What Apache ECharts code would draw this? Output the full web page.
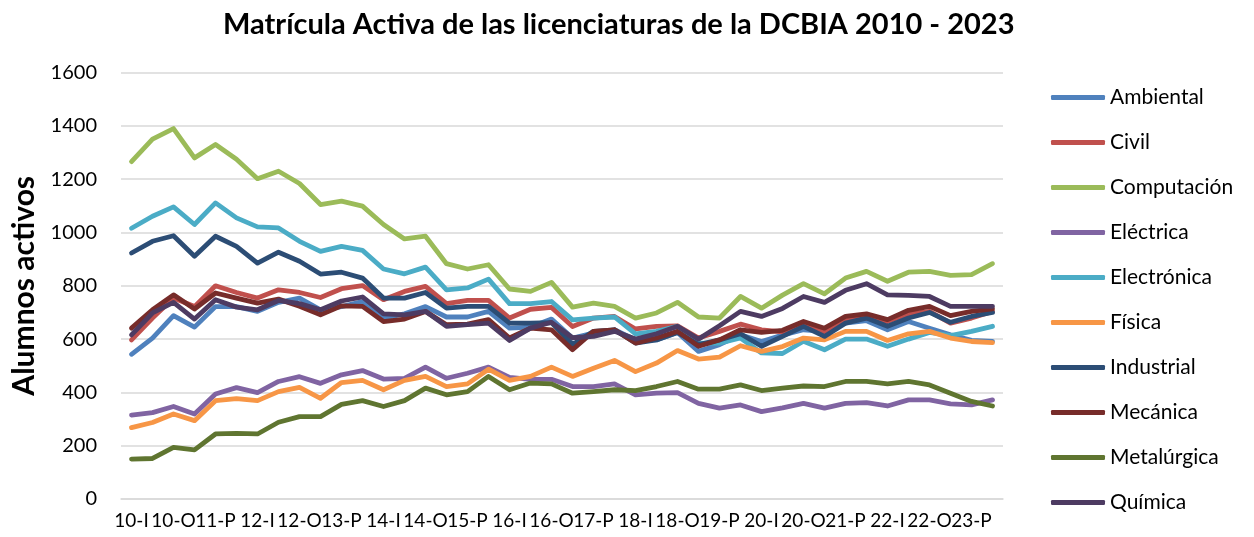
<!DOCTYPE html>
<html>
<head>
<meta charset="utf-8">
<script src="https://cdn.jsdelivr.net/npm/echarts@6/dist/echarts.min.js"></script>
<style>
  html, body { margin: 0; padding: 0; background: #fff; }
  #chart { width: 1254px; height: 537px; }
</style>
</head>
<body>
<div id="chart"></div>
<script>
// periodos: I = invierno, P = primavera, O = otoño
var years = ['10', '11', '12', '13', '14', '15', '16', '17', '18', '19', '20', '21', '22', '23'];
var terms = ['I', 'P', 'O'];
var periods = [];
years.forEach(function (y) {
  terms.forEach(function (t) { periods.push(y + '-' + t); });
});

var ambiental = [543, 604, 688, 645, 722, 722, 704, 738, 754, 710, 722, 741, 679, 695, 722, 683, 683, 704, 641, 645, 675,
  604, 623, 635, 597, 597, 625, 554, 579, 616, 591, 615, 635, 629, 660, 669, 635, 666, 641, 616, 595, 591];
var civil = [597, 679, 754, 722, 800, 775, 754, 785, 775, 756, 789, 801, 748, 779, 798, 733, 745, 745, 679, 712, 719,
  647, 679, 685, 638, 648, 650, 604, 629, 656, 635, 627, 660, 625, 673, 679, 666, 695, 704, 660, 679, 704];
var computacion = [1266, 1350, 1390, 1280, 1330, 1275, 1202, 1230, 1184, 1105, 1118, 1099, 1030, 976, 986, 883, 863, 879, 788, 779, 813,
  720, 735, 723, 679, 698, 738, 683, 679, 760, 716, 765, 808, 770, 829, 854, 817, 851, 854, 839, 842, 883];
var electrica = [315, 324, 347, 319, 394, 418, 399, 441, 459, 434, 466, 482, 450, 453, 495, 453, 472, 495, 456, 449, 449,
  422, 422, 432, 391, 397, 399, 359, 341, 353, 328, 342, 359, 341, 359, 362, 349, 372, 372, 357, 353, 372];
var electronica = [1016, 1061, 1096, 1030, 1111, 1055, 1021, 1017, 967, 929, 948, 933, 863, 845, 870, 785, 792, 825, 733, 733, 741,
  672, 679, 683, 620, 629, 648, 585, 585, 604, 548, 546, 592, 560, 600, 600, 573, 600, 625, 613, 629, 648];
var fisica = [268, 287, 319, 294, 369, 377, 369, 403, 419, 378, 437, 445, 410, 445, 460, 422, 432, 487, 445, 460, 495,
  460, 491, 520, 478, 510, 557, 525, 532, 575, 554, 572, 604, 597, 629, 629, 595, 620, 629, 604, 591, 587];
var industrial = [923, 967, 988, 911, 986, 948, 885, 926, 892, 844, 851, 829, 754, 754, 775, 716, 723, 723, 660, 660, 662,
  580, 629, 635, 585, 597, 625, 579, 597, 620, 573, 610, 648, 610, 660, 679, 648, 679, 700, 663, 685, 700];
var mecanica = [641, 710, 766, 713, 773, 754, 735, 750, 723, 691, 725, 723, 666, 675, 704, 654, 656, 673, 604, 641, 635,
  560, 629, 635, 585, 604, 629, 573, 597, 635, 625, 633, 666, 641, 685, 695, 673, 708, 723, 688, 704, 713];
var metalurgica = [150, 152, 194, 184, 244, 246, 244, 288, 309, 309, 355, 369, 347, 369, 416, 391, 403, 460, 410, 435, 432,
  397, 403, 410, 407, 422, 441, 412, 412, 428, 407, 416, 424, 422, 441, 441, 432, 441, 428, 397, 366, 349];
var quimica = [616, 698, 738, 675, 748, 720, 710, 745, 733, 710, 743, 758, 695, 691, 704, 648, 654, 660, 595, 641, 663,
  605, 610, 629, 600, 620, 648, 600, 650, 704, 685, 715, 760, 738, 783, 808, 766, 764, 760, 723, 723, 723];

var names = ['Ambiental', 'Civil', 'Computación', 'Eléctrica', 'Electrónica', 'Física', 'Industrial', 'Mecánica', 'Metalúrgica', 'Química'];
var values = [ambiental, civil, computacion, electrica, electronica, fisica, industrial, mecanica, metalurgica, quimica];
var colors = ['#4F81BD', '#C0504D', '#9BBB59', '#8064A2', '#4BACC6', '#F79646', '#2C4D75', '#772C2A', '#5F7530', '#4D3B62'];

var font = 'Lato, "Open Sans", sans-serif';

var chart = echarts.init(document.getElementById('chart'));
chart.setOption({
  backgroundColor: '#fff',
  color: colors,
  animation: false,
  title: {
    text: 'Matrícula Activa de las licenciaturas de la DCBIA 2010 - 2023',
    left: 218,
    top: 5,
    textStyle: { fontFamily: font, fontWeight: 'bold', fontSize: 29, color: '#000' }
  },
  legend: {
    orient: 'vertical',
    left: 1046,
    top: 82,
    icon: 'roundRect',
    itemWidth: 54,
    itemHeight: 5,
    itemGap: 24,
    textStyle: { fontFamily: font, fontSize: 21, color: '#000', lineHeight: 21 },
    data: names
  },
  grid: { left: 121, right: 251, top: 72.6, bottom: 38 },
  xAxis: {
    type: 'category',
    data: periods,
    boundaryGap: true,
    axisLine: { show: true, lineStyle: { color: '#D9D9D9', width: 1.5 } },
    axisTick: { show: false },
    axisLabel: {
      interval: 0,
      showMinLabel: true,
      showMaxLabel: false,
      hideOverlap: false,
      formatter: function (v, i) { return i % 2 === 0 ? v : ''; },
      margin: 12, fontFamily: font, fontSize: 19, color: '#000'
    }
  },
  yAxis: {
    type: 'value',
    min: 0,
    max: 1600,
    interval: 200,
    name: 'Alumnos activos',
    nameLocation: 'middle',
    nameGap: 80,
    nameTextStyle: { fontFamily: font, fontWeight: 'bold', fontSize: 30, color: '#000' },
    axisLine: { show: false },
    axisTick: { show: false },
    axisLabel: {
      margin: 24, fontFamily: font, fontSize: 20, color: '#000',
      formatter: function (v) { return String(v); }
    },
    splitLine: { lineStyle: { color: '#D9D9D9', width: 1.5 } }
  },
  series: names.map(function (n, i) {
    return {
      name: n,
      type: 'line',
      data: values[i],
      symbol: 'none',
      lineStyle: { width: 4.8, cap: 'round', join: 'round' }
    };
  })
});
</script>
</body>
</html>
